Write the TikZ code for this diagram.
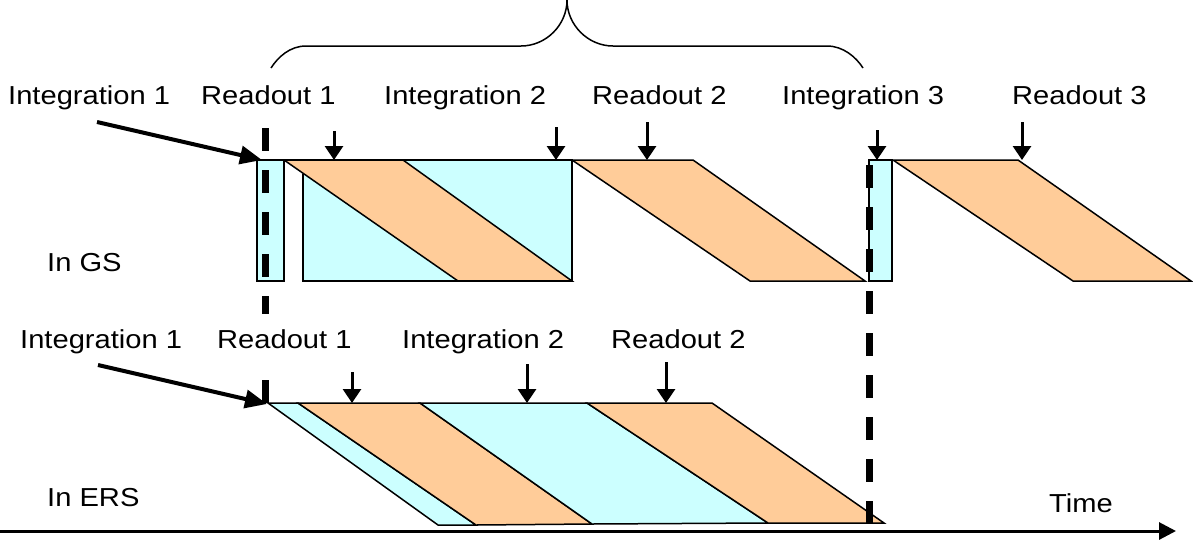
\documentclass[tikz,border=0pt]{standalone}
\usepackage{fontspec}
\setmainfont{Liberation Sans}[FakeStretch=1.12]
\usetikzlibrary{arrows.meta}
\definecolor{cy}{HTML}{CCFFFF}
\definecolor{orng}{HTML}{FFCC99}
\begin{document}
\begin{tikzpicture}[x=1pt,y=-1pt,
 lbl/.style={font=\fontsize{26}{30}\selectfont, inner sep=0pt, anchor=base west},
 shp/.style={draw=black, line width=1.5pt, line join=miter},
 dn/.style={line width=3pt, -{Triangle[width=18pt,length=14pt]}},
 big/.style={line width=4pt, -{Triangle[width=18pt,length=22pt]}},
 vdash/.style={line width=7pt, dash pattern=on 23pt off 19pt}]
\useasboundingbox[fill=white] (0,0) rectangle (1193,544);

% brace
\draw[line width=1.5pt] (271,68) .. controls (278,57) and (290,46) .. (306,46) -- (521,46)
  .. controls (546,46) and (567,25) .. (567,0);
\draw[line width=1.5pt] (567,0) .. controls (567,25) and (588,46) .. (613,46) -- (827,46)
  .. controls (843,46) and (856,57) .. (863,68);

% GS row
\filldraw[shp, fill=cy] (257,160) rectangle (284,281);
\fill[cy] (284,160) -- (572,160) -- (572,281) -- (303,281) -- (303,174) -- cycle;
\filldraw[shp, fill=orng] (284,160) -- (403,160) -- (572,281) -- (458,281) -- cycle;
\draw[shp] (303,174) -- (303,281) -- (572,281) -- (572,160) -- (284,160);
\filldraw[shp, fill=orng] (572,160) -- (693,160) -- (865,281) -- (750,281) -- cycle;
\filldraw[shp, fill=cy] (869,160) rectangle (892,281);
\filldraw[shp, fill=orng] (893,160) -- (1018,160) -- (1191,281) -- (1073,281) -- cycle;

% ERS row
\filldraw[shp, fill=cy] (268,403) -- (298,403) -- (476,525) -- (438,525) -- cycle;
\filldraw[shp, fill=orng] (298,403) -- (420,403) -- (592,524) -- (476,525) -- cycle;
\filldraw[shp, fill=cy] (420,403) -- (587,403) -- (768,523) -- (592,524) -- cycle;
\filldraw[shp, fill=orng] (587,403) -- (712,403) -- (884,523) -- (768,523) -- cycle;

% dashed lines
\coordinate (d1a) at (265,128); \coordinate (d1b) at (265,405);
\coordinate (d2a) at (869.5,165); \coordinate (d2b) at (869.5,524);
\draw[vdash] (d1a) -- (d1b);
\draw[vdash] (d2a) -- (d2b);

% labels row 1
\node[lbl] (gi1) at (8,104) {Integration 1};
\node[lbl] (gr1) at (201,104) {Readout 1};
\node[lbl] (gi2) at (384,104) {Integration 2};
\node[lbl] (gr2) at (592,104) {Readout 2};
\node[lbl] (gi3) at (782,104) {Integration 3};
\node[lbl] (gr3) at (1012,104) {Readout 3};
% labels row 2
\node[lbl] (ei1) at (20,348) {Integration 1};
\node[lbl, fill=white, inner ysep=15pt] (er1) at (217,348) {Readout 1};
\node[lbl] (ei2) at (402,348) {Integration 2};
\node[lbl] (er2) at (611,348) {Readout 2};
\node[lbl] (gs) at (47,271) {In GS};
\node[lbl] (ers) at (47,506) {In ERS};
\node[lbl] (time) at (1049,512) {Time};

% arrows GS
\coordinate (ga0) at (97,122); \coordinate (ga1) at (262,160);
\draw[big] (ga0) -- (ga1);
\coordinate (a1s) at (334,131); \coordinate (a1e) at (334,160);
\coordinate (a2s) at (556,127); \coordinate (a2e) at (556,160);
\coordinate (a3s) at (647,122); \coordinate (a3e) at (647,160);
\coordinate (a4s) at (877,130); \coordinate (a4e) at (877,160);
\coordinate (a5s) at (1022,122); \coordinate (a5e) at (1022,160);
\draw[dn] (a1s) -- (a1e);
\draw[dn] (a2s) -- (a2e);
\draw[dn] (a3s) -- (a3e);
\draw[dn] (a4s) -- (a4e);
\draw[dn] (a5s) -- (a5e);
% arrows ERS
\coordinate (ea0) at (98,365); \coordinate (ea1) at (267,404);
\draw[big] (ea0) -- (ea1);
\coordinate (b1s) at (352,372); \coordinate (b1e) at (352,403);
\coordinate (b2s) at (527,364); \coordinate (b2e) at (527,403);
\coordinate (b3s) at (666,362); \coordinate (b3e) at (666,403);
\draw[dn] (b1s) -- (b1e);
\draw[dn] (b2s) -- (b2e);
\draw[dn] (b3s) -- (b3e);

% time axis
\coordinate (t0) at (0,531); \coordinate (t1) at (1176,531);
\draw[line width=3pt, -{Triangle[width=17pt,length=17pt]}] (t0) -- (t1);
\end{tikzpicture}
\end{document}
